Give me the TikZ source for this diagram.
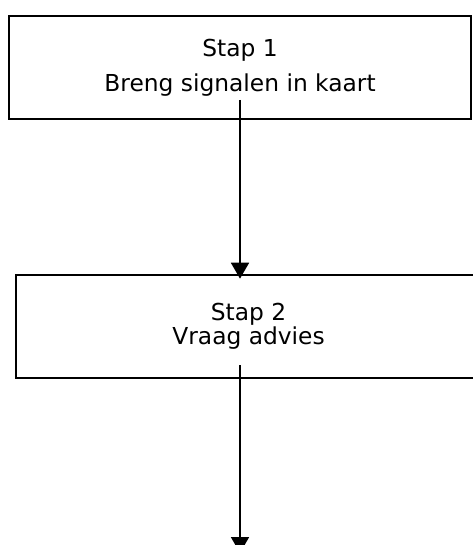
\documentclass[tikz,border=0pt]{standalone}
\usepackage{fontspec}
\setmainfont{DejaVu Sans}
\usepackage{tikz}
\usetikzlibrary{arrows.meta,positioning,calc}
\definecolor{ink}{HTML}{000000}
\tikzset{
  stapbox/.style={rectangle, draw=ink, fill=white, line width=1.6pt, align=center,
                  inner sep=0pt, minimum height=77.25pt,
                  font=\fontsize{17.5}{16.5}\selectfont},
  flow/.style={-{Triangle[length=12pt,width=13.5pt]}, draw=ink, line width=1.4pt}
}
\begin{document}
\begin{tikzpicture}[x=0.75pt, y=-0.75pt]
 \useasboundingbox (0,0) rectangle (473,545);
 \node[stapbox, anchor=north west, minimum width=346.5pt] (stap1) at (8,15)
   {Stap 1\\[8pt]Breng signalen in kaart};
 \node[stapbox, anchor=north west, minimum width=348.75pt] (stap2) at (15,274)
   {Stap 2\\Vraag advies};
 \coordinate (uit1) at (240,100);
 \coordinate (uit2) at (240,365);
 \coordinate (eind) at (240,553);
 \draw[flow, shorten >=-3.5pt] (uit1) -- (uit1 |- stap2.north);
 \draw[flow] (uit2) -- (eind);
\end{tikzpicture}
\end{document}
